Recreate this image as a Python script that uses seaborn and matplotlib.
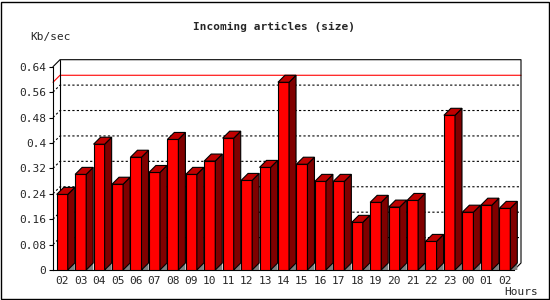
import matplotlib
matplotlib.use("Agg")
import matplotlib.pyplot as plt
from matplotlib.patches import Polygon, Rectangle
import numpy as np
import pandas as pd
import seaborn as sns

# data
hours = ["02", "03", "04", "05", "06", "07", "08", "09", "10", "11", "12", "13",
         "14", "15", "16", "17", "18", "19", "20", "21", "22", "23", "00", "01", "02"]
kbps = [0.238, 0.301, 0.396, 0.270, 0.355, 0.307, 0.411, 0.301, 0.343, 0.415, 0.282, 0.323,
        0.591, 0.333, 0.279, 0.279, 0.150, 0.213, 0.198, 0.219, 0.090, 0.487, 0.182, 0.204, 0.194]
yticks = [0, 0.08, 0.16, 0.24, 0.32, 0.4, 0.48, 0.56, 0.64]

df = pd.DataFrame({"slot": range(len(kbps)), "kbps": kbps})

sns.set_style("white")
plt.rcParams["font.family"] = ["DejaVu Sans Mono"]

fig = plt.figure(figsize=(5.5, 3), dpi=100)
ax = fig.add_axes([53 / 550, 30 / 300, 461 / 550, 203.3 / 300])

sns.barplot(data=df, x="slot", y="kbps", color="#ff0000", saturation=1, width=0.6,
            edgecolor="black", linewidth=0.8, ax=ax, zorder=3)

ax.set_xlim(-0.5, len(kbps) - 0.5)
ax.set_ylim(0, 0.64)

# 3d depth, about 7 px each way
dx = 7 / (461 / 25)
dy = 7 / (203.3 / 0.64)

for p in ax.patches[:len(kbps)]:
    x0, w, h = p.get_x(), p.get_width(), p.get_height()
    x1 = x0 + w
    ax.add_patch(Polygon([(x1, 0), (x1 + dx, dy), (x1 + dx, 0)], closed=True,
                         facecolor="#808080", edgecolor="none", zorder=2, clip_on=False))
    ax.add_patch(Polygon([(x1, 0), (x1 + dx, dy), (x1 + dx, h + dy), (x1, h)], closed=True,
                         facecolor="#800000", edgecolor="black", lw=0.8, zorder=3, clip_on=False))
    ax.add_patch(Polygon([(x0, h), (x0 + dx, h + dy), (x1 + dx, h + dy), (x1, h)], closed=True,
                         facecolor="#c00000", edgecolor="black", lw=0.8, zorder=3, clip_on=False))

xl, xr = -0.5, len(kbps) - 0.5
# dotted grid on the back wall
for v in yticks[1:-1]:
    ax.plot([xl, xl + dx, xr + dx], [v, v + dy, v + dy], color="black", lw=0.8,
            linestyle=(0, (2, 2)), zorder=1, clip_on=False)
# max line
mx = max(kbps)
ax.plot([xl, xl + dx, xr + dx], [mx, mx + dy, mx + dy], color="#ff0000", lw=0.8,
        zorder=1, clip_on=False)

# back frame
top = 0.64
ax.plot([xl, xl + dx, xr + dx, xr + dx, xr], [top, top + dy, top + dy, dy, 0],
        color="black", lw=0.8, zorder=1, clip_on=False)
ax.plot([xl + dx, xl + dx], [dy, top + dy], color="black", lw=0.8, zorder=1, clip_on=False)

for s in ["top", "right"]:
    ax.spines[s].set_visible(False)
for s in ["left", "bottom"]:
    ax.spines[s].set_color("black")
    ax.spines[s].set_linewidth(0.8)

ax.set_yticks(yticks)
ax.set_yticklabels([f"{v:g}" for v in yticks], fontsize=8)
ax.set_xticks(range(len(hours)))
ax.set_xticklabels(hours, fontsize=8)
ax.set_xticks(np.arange(-0.5, len(hours)), minor=True)
ax.tick_params(axis="x", which="major", length=0, pad=4)
ax.tick_params(axis="x", which="minor", length=3, width=0.8, direction="out", color="black")
ax.tick_params(axis="y", length=3, width=0.8, direction="out", color="black", pad=2, left=True)
ax.set_xlabel("")
ax.set_ylabel("")

fig.text(274 / 550, 1 - 27 / 300, "Incoming articles (size)", ha="center", va="center",
         fontsize=8, fontweight="bold")
fig.text(30 / 550, 1 - 37 / 300, "Kb/sec", ha="left", va="center", fontsize=8)
fig.text(504 / 550, 1 - 292 / 300, "Hours", ha="left", va="center", fontsize=8)

# outer frame, 1 px, inset a little on the right and bottom
fig.patches.append(Rectangle((0.5 / 550, 1.5 / 300), 548 / 550, 298 / 300 - 0.5 / 300 - 0.5 / 300,
                             transform=fig.transFigure, fill=False, edgecolor="black", lw=1))

fig.savefig("out.png", dpi=100)
